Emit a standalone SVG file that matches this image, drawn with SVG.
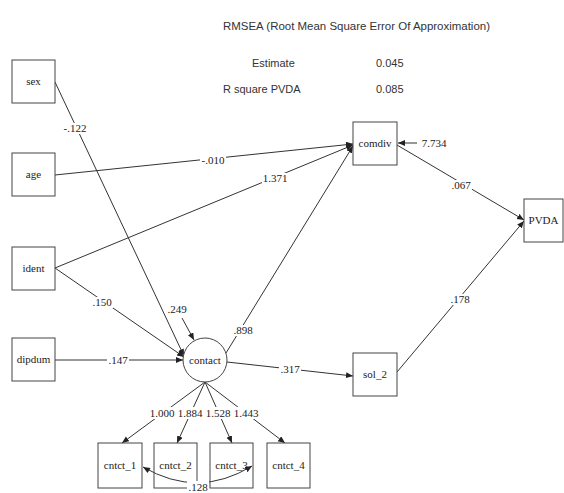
<svg xmlns="http://www.w3.org/2000/svg" width="564" height="493" viewBox="0 0 564 493">
<style>
.box{fill:#fff;stroke:#444;stroke-width:1}
.nl{font-family:"Liberation Serif","Times New Roman",serif;font-size:11px;fill:#222;text-anchor:middle}
.el{font-family:"Liberation Serif","Times New Roman",serif;font-size:11px;fill:#222;text-anchor:middle}
.bg{fill:#fff;stroke:none}
.hd{font-family:"Liberation Sans",Arial,sans-serif;font-size:11px;fill:#333}
.ln{fill:none;stroke:#333;stroke-width:1}
.ar{marker-end:url(#ah)}
</style>
<defs>
<marker id="ah" markerUnits="userSpaceOnUse" markerWidth="8" markerHeight="7" refX="7" refY="3" orient="auto"><path d="M0,0 L7,3 L0,6 z" fill="#222"/></marker>
<marker id="as" markerUnits="userSpaceOnUse" markerWidth="8" markerHeight="7" refX="0" refY="3" orient="auto"><path d="M7,0 L0,3 L7,6 z" fill="#222"/></marker>
</defs>

<g id="header">
<text class="hd" x="223" y="30" textLength="267" lengthAdjust="spacingAndGlyphs">RMSEA (Root Mean Square Error Of Approximation)</text>
<text class="hd" x="252" y="67">Estimate</text>
<text class="hd" x="376" y="67">0.045</text>
<text class="hd" x="223" y="93">R square PVDA</text>
<text class="hd" x="376" y="93">0.085</text>
</g>

<g id="connectors">
<path class="ln ar" d="M55,82 L184,356"/>
<path class="ln ar" d="M55,175 L353,144"/>
<path class="ln ar" d="M55,268 L353,145"/>
<path class="ln ar" d="M55,268 L184,357"/>
<path class="ln ar" d="M55,360 L183,360"/>
<path class="ln ar" d="M226,353 L353,146"/>
<path class="ln ar" d="M417,143 L398,143"/>
<path class="ln ar" d="M397,145 L524,220"/>
<path class="ln ar" d="M397,372 L524,221"/>
<path class="ln ar" d="M227,362 L353,376"/>
<path class="ln ar" d="M182,318 L194,340"/>
<path class="ln ar" d="M205,382 L122,443"/>
<path class="ln ar" d="M205,382 L177,443"/>
<path class="ln ar" d="M205,382 L232,443"/>
<path class="ln ar" d="M205,382 L285,443"/>
<path class="ln" d="M143,467 Q198,499 252,466" marker-start="url(#as)" marker-end="url(#ah)"/>
</g>

<g id="sex"><rect class="box" x="12" y="60" width="43" height="43"/><text class="nl" x="33.5" y="85">sex</text></g>
<g id="age"><rect class="box" x="12" y="153" width="43" height="43"/><text class="nl" x="33.5" y="178">age</text></g>
<g id="ident"><rect class="box" x="12" y="247" width="43" height="43"/><text class="nl" x="33.5" y="272">ident</text></g>
<g id="dipdum"><rect class="box" x="12" y="338" width="43" height="43"/><text class="nl" x="33.5" y="363">dipdum</text></g>
<g id="comdiv"><rect class="box" x="353" y="122" width="44" height="43"/><text class="nl" x="375" y="147">comdiv</text></g>
<g id="PVDA"><rect class="box" x="524" y="199" width="39" height="43"/><text class="nl" x="543.5" y="224">PVDA</text></g>
<g id="sol_2"><rect class="box" x="353" y="353" width="44" height="43"/><text class="nl" x="375" y="378">sol_2</text></g>
<g id="contact"><circle class="box" cx="205" cy="360" r="22"/><text class="nl" x="205" y="364">contact</text></g>
<g id="cntct_1"><rect class="box" x="98" y="443" width="44" height="45" fill-opacity="0"/><text class="nl" x="120" y="469">cntct_1</text></g>
<g id="cntct_2"><rect class="box" x="154" y="443" width="43" height="45" style="fill:none"/><text class="nl" x="175.5" y="469">cntct_2</text></g>
<g id="cntct_3"><rect class="box" x="210" y="443" width="43" height="45" style="fill:none"/><text class="nl" x="231.5" y="469">cntct_3</text></g>
<g id="cntct_4"><rect class="box" x="267" y="443" width="43" height="45"/><text class="nl" x="288.5" y="469">cntct_4</text></g>

<g id="labels">
<rect class="bg" x="62" y="123" width="26" height="11"/><text class="el" x="75" y="132">-.122</text>
<rect class="bg" x="200" y="155" width="26" height="11"/><text class="el" x="213" y="164">-.010</text>
<rect class="bg" x="262" y="173" width="26" height="11"/><text class="el" x="275" y="182">1.371</text>
<rect class="bg" x="91" y="297" width="22" height="11"/><text class="el" x="102" y="306">.150</text>
<rect class="bg" x="166" y="304" width="22" height="11"/><text class="el" x="177" y="313">.249</text>
<rect class="bg" x="232" y="325" width="22" height="11"/><text class="el" x="243" y="334">.898</text>
<rect class="bg" x="107" y="355" width="22" height="11"/><text class="el" x="118" y="364">.147</text>
<rect class="bg" x="279" y="364" width="22" height="11"/><text class="el" x="290" y="373">.317</text>
<rect class="bg" x="419" y="138" width="30" height="11"/><text class="el" x="434" y="147">7.734</text>
<rect class="bg" x="450" y="180" width="22" height="11"/><text class="el" x="461" y="189">.067</text>
<rect class="bg" x="449" y="294" width="22" height="11"/><text class="el" x="460" y="303">.178</text>
<rect class="bg" x="148" y="407" width="112" height="12"/>
<text class="el" x="162" y="417">1.000</text>
<text class="el" x="190" y="417">1.884</text>
<text class="el" x="218" y="417">1.528</text>
<text class="el" x="246" y="417">1.443</text>
<rect class="bg" x="187" y="481" width="22" height="12"/><text class="el" x="198" y="491">.128</text>
</g>
</svg>
